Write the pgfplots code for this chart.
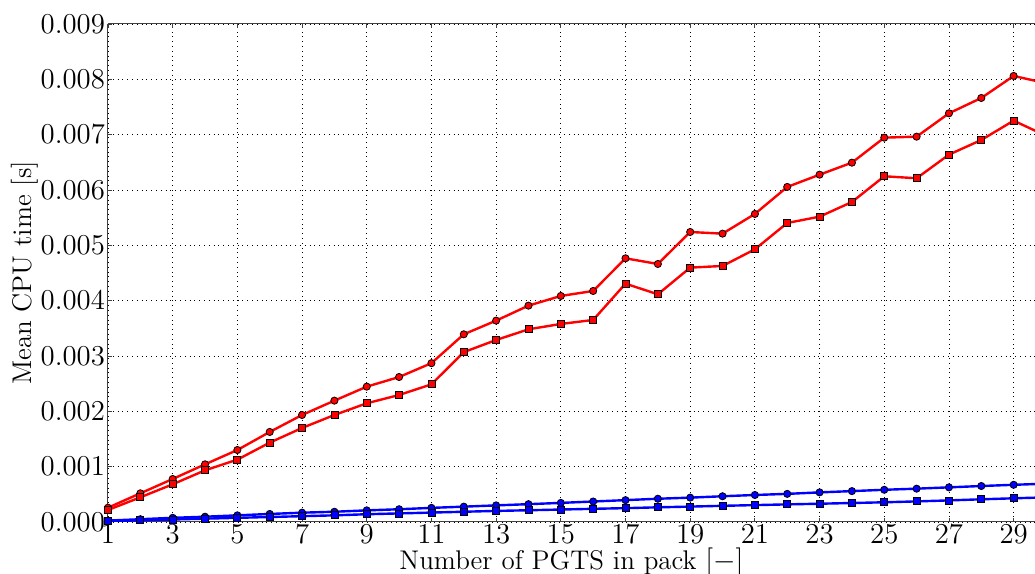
\documentclass[border=0pt]{standalone}
\usepackage{pgfplots}
\pgfplotsset{compat=1.18}
\pgfplotstableread{
x rc rs bc bs
1 0.000258 0.000217 0.000025 0.000015
2 0.000518 0.000446 0.000050 0.000030
3 0.000777 0.000681 0.000075 0.000045
4 0.001042 0.000934 0.000095 0.000060
5 0.001301 0.001127 0.000120 0.000075
6 0.001627 0.001434 0.000145 0.000090
7 0.001934 0.001699 0.000168 0.000105
8 0.002193 0.001934 0.000185 0.000120
9 0.002446 0.002145 0.000210 0.000140
10 0.002620 0.002295 0.000230 0.000155
11 0.002870 0.002488 0.000255 0.000170
12 0.003392 0.003070 0.000277 0.000185
13 0.003639 0.003289 0.000300 0.000200
14 0.003910 0.003482 0.000322 0.000212
15 0.004085 0.003579 0.000345 0.000225
16 0.004175 0.003651 0.000370 0.000238
17 0.004765 0.004307 0.000395 0.000250
18 0.004663 0.004115 0.000420 0.000265
19 0.005241 0.004597 0.000440 0.000278
20 0.005211 0.004627 0.000465 0.000292
21 0.005567 0.004928 0.000488 0.000305
22 0.006055 0.005404 0.000508 0.000318
23 0.006277 0.005518 0.000535 0.000330
24 0.006494 0.005783 0.000558 0.000343
25 0.006946 0.006248 0.000582 0.000356
26 0.006964 0.006212 0.000602 0.000372
27 0.007386 0.006639 0.000626 0.000390
28 0.007663 0.006904 0.000650 0.000410
29 0.008061 0.007253 0.000672 0.000428
30 0.007930 0.006980 0.000692 0.000445
}\data
\begin{document}
\begin{tikzpicture}
\begin{axis}[
  name=ax,
  scale only axis,
  width=463.5pt, height=249pt,
  xmin=1, xmax=29.66, ymin=0, ymax=0.009,
  axis y line*=left,
  axis line style={black!75, line width=0.5pt},
  tick align=inside,
  xtick pos=both,
  major tick length=2pt,
  tick style={black!75, line width=0.4pt},
  xtick={1,3,...,29},
  ytick={0,0.001,0.002,0.003,0.004,0.005,0.006,0.007,0.008,0.009},
  scaled y ticks=false,
  yticklabel style={xshift=2pt, /pgf/number format/fixed, /pgf/number format/fixed zerofill, /pgf/number format/precision=3},
  grid=major,
  major grid style={black, dotted, line width=0.4pt},
  every tick label/.append style={font=\fontsize{13.8}{16}\selectfont},
  xticklabel style={yshift=2pt},
  xlabel={Number of PGTS in pack $[-]$},
  ylabel={Mean CPU time [s]},
  label style={font=\fontsize{13.5}{16}\selectfont},
  xlabel style={at={(axis description cs:0.5,0)}, anchor=base, yshift=-24pt},
  ylabel style={at={(axis description cs:-0.0895,0.5)}, anchor=center},
  every axis plot/.append style={line width=1.2pt},
]
\addplot[red, mark=*, mark size=1.8pt, mark options={fill=red, draw=black, line width=0.4pt}] table[x=x, y=rc] {\data};
\addplot[red, mark=square*, mark size=1.75pt, mark options={fill=red, draw=black, line width=0.4pt}] table[x=x, y=rs] {\data};
\addplot[blue, mark=*, mark size=1.8pt, mark options={fill=blue, draw=black, line width=0.4pt}] table[x=x, y=bc] {\data};
\addplot[blue, mark=square*, mark size=1.75pt, mark options={fill=blue, draw=black, line width=0.4pt}] table[x=x, y=bs] {\data};
\end{axis}
\pgfresetboundingbox
\path[use as bounding box] ([xshift=-54pt,yshift=-26pt]ax.south west) rectangle ([yshift=12pt]ax.north east);
\end{tikzpicture}
\end{document}
